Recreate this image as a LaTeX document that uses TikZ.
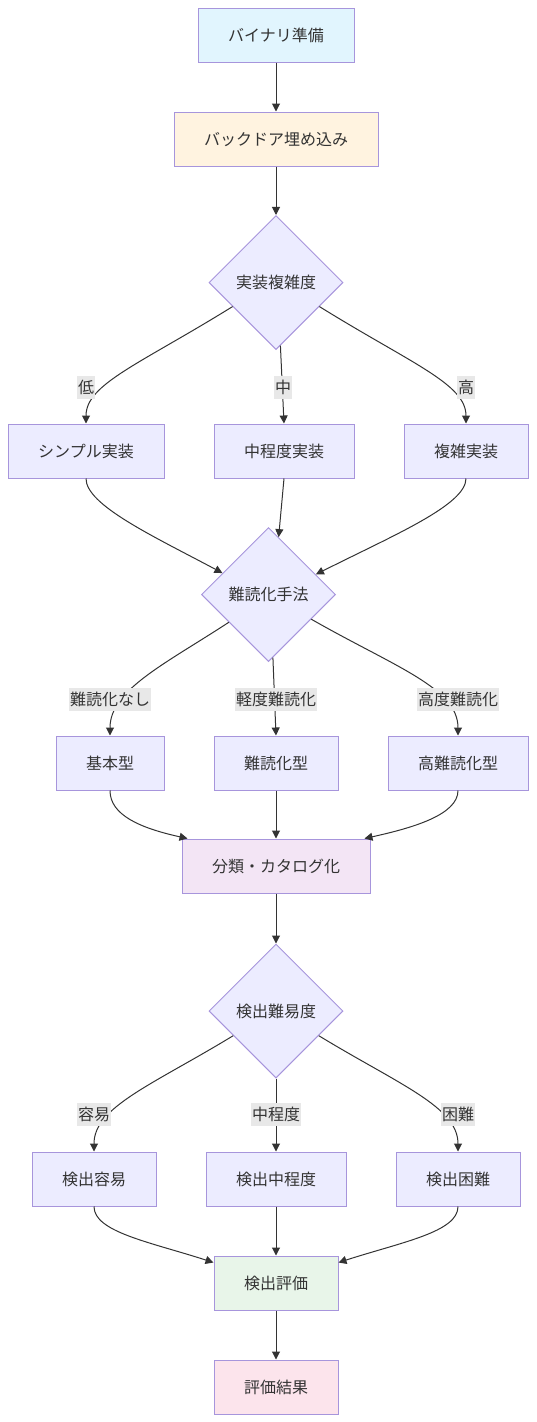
\documentclass[tikz,border=0pt]{standalone}
\usepackage{fontspec}
\setmainfont{Noto Sans CJK JP}
\usetikzlibrary{shapes.geometric,arrows.meta}
\definecolor{txt}{HTML}{333333}
\definecolor{stroke}{HTML}{A795DC}
\definecolor{nodefill}{HTML}{ECECFF}
\definecolor{lblfill}{HTML}{E8E8E8}
\definecolor{fblue}{HTML}{E1F5FE}
\definecolor{forange}{HTML}{FFF3E0}
\definecolor{fpurple}{HTML}{F3E5F5}
\definecolor{fgreen}{HTML}{E8F5E9}
\definecolor{fpink}{HTML}{FCE4EC}
\begin{document}
\begin{tikzpicture}[x=1pt,y=-1pt,
  box/.style={draw=stroke, line width=1pt, fill=nodefill, minimum height=54pt, inner sep=0pt, text=txt, font=\fontsize{16}{19}\selectfont},
  dia/.style={diamond, aspect=1, draw=stroke, line width=1pt, fill=nodefill, minimum size=134pt, inner sep=0pt, text=txt, font=\fontsize{16}{19}\selectfont},
  elabel/.style={fill=lblfill, text=txt, inner xsep=1pt, inner ysep=0pt, minimum height=23pt, font=\fontsize{16}{19}\selectfont},
  conn/.style={draw=txt, line width=1pt, -{Triangle[length=8pt,width=8pt]}}]
\useasboundingbox (0,0) rectangle (536,1422);

% nodes
\node[box, fill=fblue, minimum width=156pt] (a) at (276,35) {バイナリ準備};
\node[box, fill=forange, minimum width=204pt] (b) at (276,139) {バックドア埋め込み};
\node[dia] (c) at (276,282.5) {実装複雑度};
\node[box, minimum width=156pt] (d1) at (86,451) {シンプル実装};
\node[box, minimum width=140pt] (d2) at (284,451) {中程度実装};
\node[box, minimum width=124pt] (d3) at (466,451) {複雑実装};
\node[dia] (e) at (268.5,594.5) {難読化手法};
\node[box, minimum width=108pt] (f1) at (110,763) {基本型};
\node[box, minimum width=124pt] (f2) at (276,763) {難読化型};
\node[box, minimum width=140pt] (f3) at (458,763) {高難読化型};
\node[box, fill=fpurple, minimum width=188pt] (g) at (276,866) {分類・カタログ化};
\node[dia] (h) at (276,1011) {検出難易度};
\node[box, minimum width=124pt] (i1) at (94,1179) {検出容易};
\node[box, minimum width=140pt] (i2) at (276,1179) {検出中程度};
\node[box, minimum width=124pt] (i3) at (458,1179) {検出困難};
\node[box, fill=fgreen, minimum width=124pt] (j) at (276,1283) {検出評価};
\node[box, fill=fpink, minimum width=124pt] (k) at (276,1387) {評価結果};

% connectors
\draw[conn] (a) -- (b);
\draw[conn] (b) -- (c);
\draw[conn] (c.209.4) .. controls (140,364) and (86,384) .. (d1.north);
\draw[conn] (c.-86) -- (d2.north);
\draw[conn] (c.-29.4) .. controls (412,364) and (466,384) .. (d3.north);

\draw[conn] (d1.south) .. controls (86,505) and (152,535.5) .. (e.155.7);
\draw[conn] (d2.south) -- (e.80);
\draw[conn] (d3.south) .. controls (466,505) and (393,535.5) .. (e.23.9);

\draw[conn] (e.215) .. controls (165,664) and (110,690) .. (f1.north);
\draw[conn] (e.-86) -- (f2.north);
\draw[conn] (e.-30) .. controls (395,667) and (458,688) .. (f3.north);

\draw[conn] (f1.south) .. controls (110,815) and (140,828) .. ([xshift=6pt]g.north west);
\draw[conn] (f2.south) -- (g.north);
\draw[conn] (f3.south) .. controls (458,815) and (412,828) .. ([xshift=-6pt]g.north east);

\draw[conn] (g) -- (h);

\draw[conn] (h.210) .. controls (152,1085) and (94,1107) .. (i1.north);
\draw[conn] (h.south) -- (i2.north);
\draw[conn] (h.-30) .. controls (400,1085) and (458,1107) .. (i3.north);

\draw[conn] (i1.south) .. controls (94,1232) and (150,1242) .. ([yshift=-7pt]j.north west);
\draw[conn] (i2.south) -- (j.north);
\draw[conn] (i3.south) .. controls (458,1232) and (402,1242) .. ([yshift=-7pt]j.north east);

\draw[conn] (j) -- (k);

% edge labels
\node[elabel] (l1) at (86,387) {低};
\node[elabel] (l2) at (283,387) {中};
\node[elabel] (l3) at (466,387) {高};
\node[elabel] (l4) at (110,699) {難読化なし};
\node[elabel] (l5) at (276,699) {軽度難読化};
\node[elabel] (l6) at (458,699) {高度難読化};
\node[elabel] (l7) at (94,1114) {容易};
\node[elabel] (l8) at (276,1114) {中程度};
\node[elabel] (l9) at (458,1114) {困難};
\end{tikzpicture}
\end{document}
